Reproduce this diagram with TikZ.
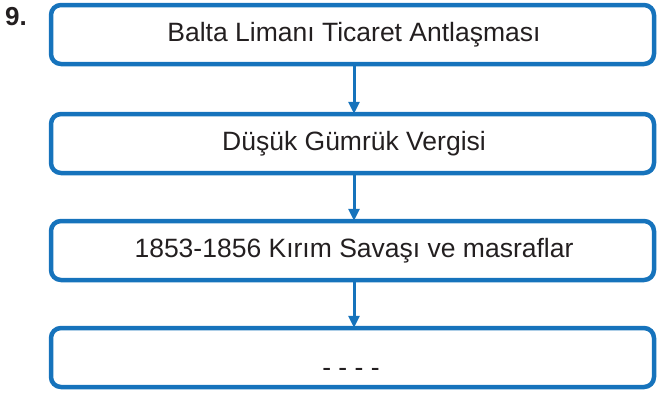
\documentclass[tikz,border=0pt]{standalone}
\usepackage{fontspec}
\setmainfont{Liberation Sans}
\usetikzlibrary{arrows.meta}
\definecolor{boxblue}{RGB}{22,115,188}
\definecolor{txt}{RGB}{35,31,32}
\begin{document}
\begin{tikzpicture}[x=1pt,y=-1pt,
  stepbox/.style={draw=boxblue,line width=4.5pt,rounded corners=10pt,minimum width=603pt,minimum height=59pt,inner sep=0pt,text=txt,font=\fontsize{26.5}{30}\selectfont},
  flow/.style={draw=boxblue,line width=3pt,-{Triangle[length=12pt,width=11pt]},shorten >=-2pt}]
\useasboundingbox (0,0) rectangle (657,394);
\node[stepbox] (b1) at (352.5,34.5) {\hspace*{3pt}Balta Limanı Ticaret Antlaşması};
\node[stepbox] (b2) at (352.5,143.5) {\hspace*{3pt}Düşük Gümrük Vergisi};
\node[stepbox] (b3) at (352.5,250.5) {\hspace*{3pt}1853-1856 Kırım Savaşı ve masraflar};
\node[stepbox] (b4) at (352.5,357.5) {};
\node[text=txt,font=\fontsize{26.5}{30}\selectfont,inner sep=0pt] (dash) at (351,372) {- - - -};
\node[font=\bfseries\fontsize{26}{30}\selectfont,text=txt,anchor=north west,inner sep=0pt] (num) at (5,7) {9.};
\draw[flow] (b1.south -| 354,0) -- (b2.north -| 354,0);
\draw[flow] (b2.south -| 354,0) -- (b3.north -| 354,0);
\draw[flow] (b3.south -| 354,0) -- (b4.north -| 354,0);
\end{tikzpicture}
\end{document}
